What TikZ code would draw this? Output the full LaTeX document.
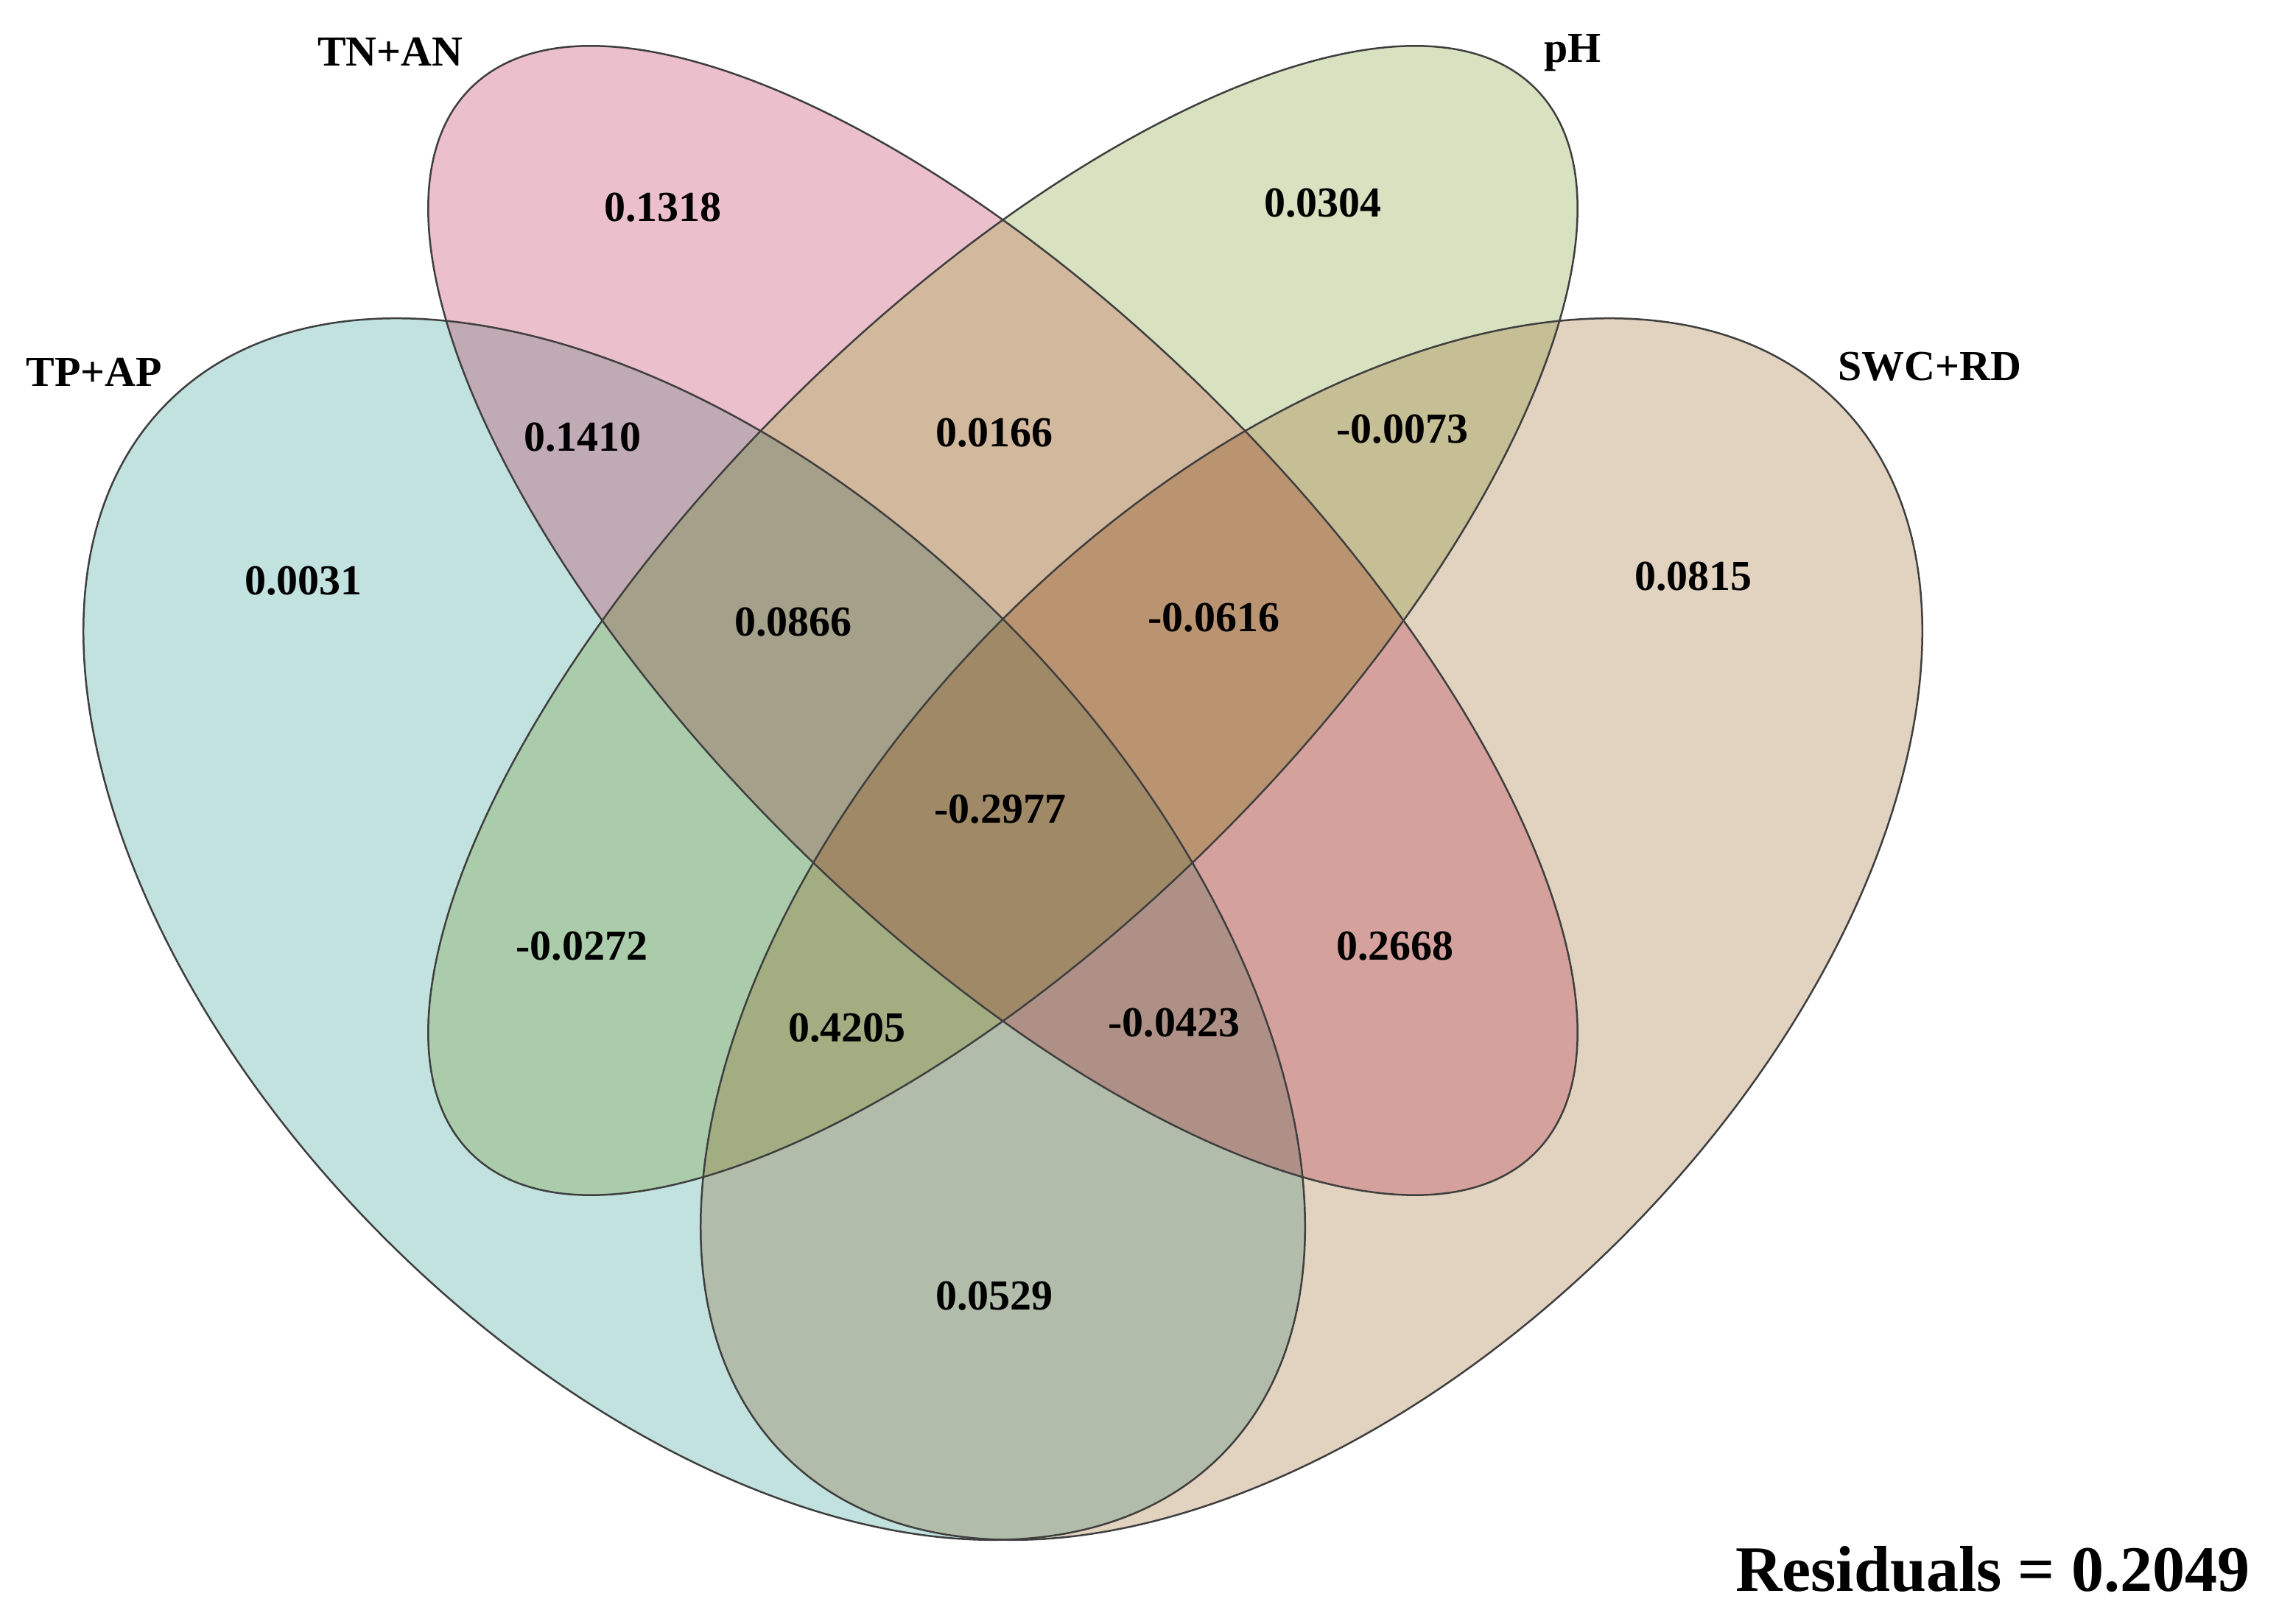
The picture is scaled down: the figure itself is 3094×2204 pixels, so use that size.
\documentclass[tikz,border=0pt]{standalone}
\usepackage{fontspec}
\setmainfont{Liberation Serif}
\definecolor{cTP}{HTML}{C2E2E0}
\definecolor{cTN}{HTML}{EBBFCC}
\definecolor{cPH}{HTML}{D9E2C0}
\definecolor{cSW}{HTML}{E2D2C0}
\definecolor{cTPTN}{HTML}{C0AAB4}
\definecolor{cTNPH}{HTML}{D2B89C}
\definecolor{cPHSW}{HTML}{C6BE94}
\definecolor{cTPPH}{HTML}{AACCAA}
\definecolor{cTNSW}{HTML}{D4A19C}
\definecolor{cTPSW}{HTML}{B2BCAA}
\definecolor{cTPTNPH}{HTML}{A5A08A}
\definecolor{cTNPHSW}{HTML}{BA9470}
\definecolor{cTPPHSW}{HTML}{A2AE82}
\definecolor{cTPTNSW}{HTML}{AF9087}
\definecolor{cALL}{HTML}{A08966}
\definecolor{cLine}{HTML}{3F3F3F}
\tikzset{
  eTP/.style={insert path={(942.5,942.5) circle[x radius=1011pt, y radius=594pt, rotate=-45]}},
  eSW/.style={insert path={(1780.5,942.5) circle[x radius=1011pt, y radius=594pt, rotate=45]}},
  eTN/.style={insert path={(1361.5,1361.5) circle[x radius=1022pt, y radius=415pt, rotate=-45]}},
  ePH/.style={insert path={(1361.5,1361.5) circle[x radius=1022pt, y radius=415pt, rotate=45]}},
  outline/.style={draw=cLine, line width=2.5pt},
  num/.style={font=\fontsize{58}{60}\selectfont\bfseries, inner sep=0pt},
  setlabel/.style={font=\fontsize{58}{60}\selectfont\bfseries, inner sep=0pt, anchor=base},
}
\begin{document}
\begin{tikzpicture}[x=1pt, y=1pt]
\useasboundingbox (0,0) rectangle (3094,2204);
% single sets
\fill[cTP, eTP];
\fill[cSW, eSW];
\fill[cTN, eTN];
\fill[cPH, ePH];
% pairs
\begin{scope}\clip[eTP]; \fill[cTPTN, eTN];\end{scope}
\begin{scope}\clip[eTN]; \fill[cTNPH, ePH];\end{scope}
\begin{scope}\clip[ePH]; \fill[cPHSW, eSW];\end{scope}
\begin{scope}\clip[eTP]; \fill[cTPPH, ePH];\end{scope}
\begin{scope}\clip[eTN]; \fill[cTNSW, eSW];\end{scope}
\begin{scope}\clip[eTP]; \fill[cTPSW, eSW];\end{scope}
% triples
\begin{scope}\clip[eTP]; \clip[eTN]; \fill[cTPTNPH, ePH];\end{scope}
\begin{scope}\clip[eTN]; \clip[ePH]; \fill[cTNPHSW, eSW];\end{scope}
\begin{scope}\clip[eTP]; \clip[ePH]; \fill[cTPPHSW, eSW];\end{scope}
\begin{scope}\clip[eTP]; \clip[eTN]; \fill[cTPTNSW, eSW];\end{scope}
% all four
\begin{scope}\clip[eTP]; \clip[eTN]; \clip[ePH]; \fill[cALL, eSW];\end{scope}
% outlines
\draw[outline, eTP];
\draw[outline, eSW];
\draw[outline, eTN];
\draw[outline, ePH];
% set labels
\node[setlabel] (lTN) at (530,2114) {TN+AN};
\node[setlabel] (lPH) at (2135,2119) {pH};
\node[setlabel] (lTP) at (128,1679) {TP+AP};
\node[setlabel] (lSW) at (2620,1687) {SWC+RD};
% region values
\node[num] (v01) at (900,1922) {0.1318};
\node[num] (v02) at (1796,1928) {0.0304};
\node[num] (v03) at (791,1610) {0.1410};
\node[num] (v04) at (1350,1616) {0.0166};
\node[num] (v05) at (1904,1621) {-0.0073};
\node[num] (v06) at (412,1415) {0.0031};
\node[num] (v07) at (2299,1421) {0.0815};
\node[num] (v08) at (1077,1359) {0.0866};
\node[num] (v09) at (1648,1365) {-0.0616};
\node[num] (v10) at (1358,1105) {-0.2977};
\node[num] (v11) at (790,919) {-0.0272};
\node[num] (v12) at (1894,919) {0.2668};
\node[num] (v13) at (1150,808) {0.4205};
\node[num] (v14) at (1594,815) {-0.0423};
\node[num] (v15) at (1350,444) {0.0529};
% residuals
\node[font=\fontsize{88}{90}\selectfont\bfseries, inner sep=0pt, anchor=base] (res) at (2705,44) {Residuals = 0.2049};
\end{tikzpicture}
\end{document}
